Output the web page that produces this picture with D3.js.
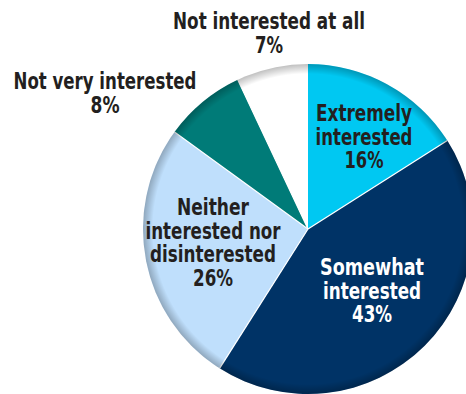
<!DOCTYPE html>
<html>
<head>
<meta charset="utf-8">
<script src="https://cdn.jsdelivr.net/npm/d3@7"></script>
<style>
  body { margin: 0; background: #fff; }
  text { font-family: "DejaVu Sans Condensed", "Liberation Sans Narrow", sans-serif; font-weight: bold; }
</style>
</head>
<body>
<svg width="466" height="394"></svg>
<script>
// ---- data ----
var categories = ["Extremely interested", "Somewhat interested", "Neither interested nor disinterested", "Not very interested", "Not interested at all"];
var values = [16, 43, 26, 8, 7];
var colors = ["#00c8f2", "#003366", "#bfdffc", "#007b78", "#ffffff"];
// label lines per category (the text as shown)
var labelLines = [
  ["Extremely", "interested", "16%"],
  ["Somewhat", "interested", "43%"],
  ["Neither", "interested nor", "disinterested", "26%"],
  ["Not very interested", "8%"],
  ["Not interested at all", "7%"]
];

var svg = d3.select("svg"),
  width = +svg.attr("width"),
  height = +svg.attr("height");

var cx = 308, cy = 229, radius = 165;

// rim shading gradient
var defs = svg.append("defs");
var grad = defs.append("radialGradient")
  .attr("id", "rim")
  .attr("gradientUnits", "userSpaceOnUse")
  .attr("cx", cx).attr("cy", cy).attr("r", radius);
grad.append("stop").attr("offset", "0.94").attr("stop-color", "#000").attr("stop-opacity", 0);
grad.append("stop").attr("offset", "1").attr("stop-color", "#000").attr("stop-opacity", 0.25);

var pie = d3.pie().sort(null).value(function(d) { return d; });
var arc = d3.arc().innerRadius(0).outerRadius(radius);
var arcs = pie(values);

var g = svg.append("g").attr("transform", "translate(" + cx + "," + cy + ")");

g.selectAll("path.slice")
  .data(arcs)
  .enter()
  .append("path")
  .attr("class", "slice")
  .attr("d", arc)
  .attr("fill", function(d, i) { return colors[i]; });

// rim shadow overlay
svg.append("circle")
  .attr("cx", cx).attr("cy", cy).attr("r", radius)
  .attr("fill", "url(#rim)");

// white separators
g.selectAll("line.sep")
  .data(arcs.slice(0, 4))
  .enter()
  .append("line")
  .attr("class", "sep")
  .attr("x1", 0).attr("y1", 0)
  .attr("x2", function(d) { return radius * Math.sin(d.endAngle); })
  .attr("y2", function(d) { return -radius * Math.cos(d.endAngle); })
  .attr("stroke", "#fff")
  .attr("stroke-width", 1.2);

// label layout (x centre, first baseline) and line widths
var labelPos = [[364, 121], [372, 275], [213, 215], [105, 89], [269, 29]];
var lineWidths = [[96, 97, 39], [104, 98, 40], [72, 135, 126, 40], [183, 29], [192, 28]];
var textColors = ["#231f20", "#ffffff", "#231f20", "#231f20", "#231f20"];
var lineH = 23.5;

labelLines.forEach(function(lines, i) {
  var t = svg.append("text")
    .attr("text-anchor", "middle")
    .attr("font-size", 23)
    .attr("fill", textColors[i]);
  lines.forEach(function(s, j) {
    t.append("tspan")
      .attr("x", labelPos[i][0])
      .attr("y", labelPos[i][1] + j * lineH)
      .attr("textLength", lineWidths[i][j])
      .attr("lengthAdjust", "spacingAndGlyphs")
      .text(s);
  });
});
</script>
</body>
</html>
